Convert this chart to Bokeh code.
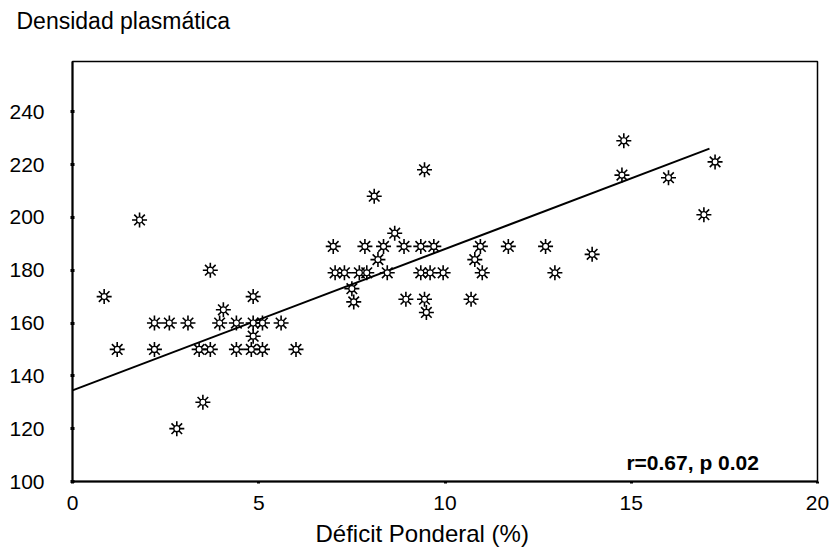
from bokeh.plotting import figure
from bokeh.models import Label, Range1d, FixedTicker, Title
from bokeh.embed import file_html
from bokeh.resources import INLINE

# Data
deficit = [0.85, 1.2, 1.8, 2.2, 2.2, 2.6, 3.1, 2.8, 3.5, 3.4, 3.7, 3.7, 3.95, 4.05,
           4.4, 4.4, 4.85, 4.85, 4.85, 4.8, 5.1, 5.1, 5.6, 6.0,
           7.0, 7.05, 7.3, 7.5, 7.55, 7.7, 7.9, 7.85, 8.1, 8.2, 8.35, 8.45, 8.65,
           8.9, 9.35, 9.7, 8.95, 9.35, 9.6, 9.95, 9.45, 9.5, 9.45, 10.7, 10.8,
           10.95, 11.0, 11.7, 12.7, 12.95, 13.95, 14.8, 14.75, 16.0, 16.95, 17.25]
densidad = [170, 150, 199, 150, 160, 160, 160, 120, 130, 150, 150, 180, 160, 165,
            160, 150, 170, 160, 155, 150, 150, 160, 160, 150,
            189, 179, 179, 173, 168, 179, 179, 189, 208, 184, 189, 179, 194,
            189, 189, 189, 169, 179, 179, 179, 169, 164, 218, 169, 184,
            189, 179, 189, 189, 179, 186, 229, 216, 215, 201, 221]

fit_x = [0, 17.1]
fit_y = [134.5, 226]

x_ticks = [0, 5, 10, 15, 20]
y_ticks = [100, 120, 140, 160, 180, 200, 220, 240]

title_text = "Densidad plasmática"
x_label = "Déficit Ponderal (%)"
stat_text = "r=0.67, p 0.02"

FONT = "Liberation Sans"

p = figure(width=834, height=555, output_backend="svg", toolbar_location=None,
           x_range=Range1d(0, 20), y_range=Range1d(100, 259),
           min_border_left=72, min_border_right=17, min_border_top=61,
           min_border_bottom=74)

p.xgrid.visible = False
p.ygrid.visible = False
p.outline_line_color = "black"
p.outline_line_width = 1.5
p.background_fill_color = "white"
p.border_fill_color = "white"

p.xaxis.ticker = FixedTicker(ticks=x_ticks)
p.yaxis.ticker = FixedTicker(ticks=y_ticks)
for ax in (p.xaxis[0], p.yaxis[0]):
    ax.axis_line_color = "black"
    ax.axis_line_width = 2
    ax.major_label_text_font = FONT
    ax.major_label_text_font_size = "21px"
    ax.major_label_text_color = "black"
    ax.minor_tick_line_color = None
    ax.major_tick_line_color = "black"
    ax.major_tick_line_width = 3

p.xaxis.major_tick_in = 0
p.xaxis.major_tick_out = 2
p.xaxis.major_label_standoff = 12

p.yaxis.major_tick_in = 2
p.yaxis.major_tick_out = 2
p.yaxis.major_label_standoff = 26

# spacer next to the frame, then the title above it
p.add_layout(Title(text=" ", text_font_size="10px", standoff=14), "above")
p.add_layout(Title(text=title_text, align="left", offset=-56, vertical_align="bottom",
                   standoff=2, text_font=FONT, text_font_size="23px",
                   text_font_style="normal", text_color="black"), "above")

# x-axis quantity below the tick labels
p.add_layout(Title(text=x_label, align="left", offset=243, vertical_align="bottom",
                   standoff=10, text_font=FONT, text_font_size="24px",
                   text_font_style="normal", text_color="black"), "below")

# regression line
p.line(fit_x, fit_y, line_color="black", line_width=2)

# star-like markers
p.scatter(deficit, densidad, marker="asterisk", size=15, line_color="black", line_width=1.6)
p.scatter(deficit, densidad, marker="circle", size=6, fill_color="white",
          line_color="black", line_width=1.2)

p.add_layout(Label(x=14.87, y=107.2, text=stat_text, text_font=FONT,
                   text_font_size="21px", text_font_style="bold",
                   text_baseline="alphabetic", text_color="black"))

open("out.html", "w").write(file_html(p, INLINE))
